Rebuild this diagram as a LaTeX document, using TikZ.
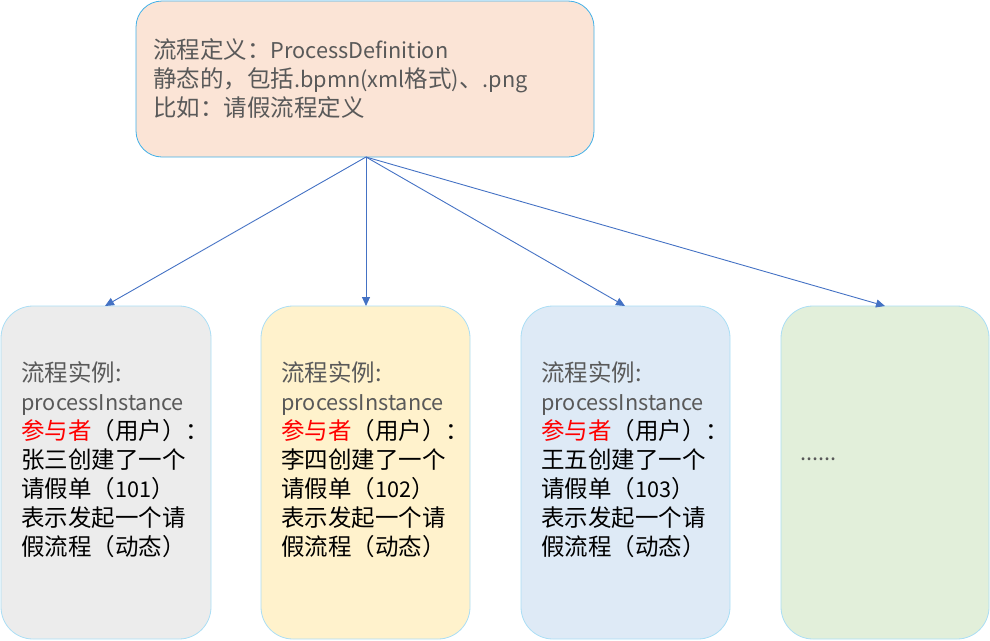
\documentclass[tikz,border=0pt]{standalone}
\usepackage{fontspec}
\setmainfont{Noto Sans CJK SC}
\usetikzlibrary{arrows.meta}
\definecolor{topfill}{RGB}{251,228,214}
\definecolor{topline}{RGB}{64,176,232}
\definecolor{boxline}{RGB}{170,222,245}
\definecolor{fillA}{RGB}{236,236,236}
\definecolor{fillB}{RGB}{255,242,204}
\definecolor{fillC}{RGB}{222,234,246}
\definecolor{fillD}{RGB}{226,239,218}
\definecolor{arrowc}{RGB}{68,114,196}
\definecolor{txtgray}{RGB}{89,89,89}
\newcommand{\lat}[1]{{\fontsize{21.7pt}{29pt}\selectfont #1}}
\tikzset{
  topbox/.style={draw=topline, line width=0.8pt, fill=topfill, rounded corners=26pt},
  instbox/.style={draw=boxline, line width=0.8pt, rounded corners=32pt},
  boxtext/.style={anchor=north west, align=left, inner sep=0pt, font=\fontsize{23.5pt}{29pt}\selectfont},
  link/.style={draw=arrowc, line width=0.9pt, -{Triangle[length=9pt,width=8pt]}}
}
\begin{document}
\begin{tikzpicture}[x=1pt,y=-1pt]
\useasboundingbox (0,0) rectangle (990,640);
% top box
\path[topbox] (136,1) rectangle (594,157);
\coordinate (defbot) at (366,157);
\node[boxtext, text=txtgray] (deftext) at (153,38) {流程定义：\lat{ProcessDefinition}\\静态的，包括\lat{.bpmn(xml}格式\lat{)}、\lat{.png}\\比如：请假流程定义};
% instance boxes
\path[instbox, fill=fillA] (1,306) rectangle (211,639);
\path[instbox, fill=fillB] (261,306) rectangle (470,639);
\path[instbox, fill=fillC] (521,306) rectangle (730,639);
\path[instbox, fill=fillD] (781,306) rectangle (989,639);
\coordinate (instA) at (105,306);
\coordinate (instB) at (366,306);
\coordinate (instC) at (625,306);
\coordinate (instD) at (885,306);
\node[boxtext] (textA) at (21,361) {\textcolor{txtgray}{流程实例:}\\\textcolor{txtgray}{\lat{processInstance}}\\\textcolor{red}{参与者}（用户）：\\张三创建了一个\\请假单（\lat{101}）\\表示发起一个请\\假流程（动态）};
\node[boxtext] (textB) at (281,361) {\textcolor{txtgray}{流程实例:}\\\textcolor{txtgray}{\lat{processInstance}}\\\textcolor{red}{参与者}（用户）：\\李四创建了一个\\请假单（\lat{102}）\\表示发起一个请\\假流程（动态）};
\node[boxtext] (textC) at (541,361) {\textcolor{txtgray}{流程实例:}\\\textcolor{txtgray}{\lat{processInstance}}\\\textcolor{red}{参与者}（用户）：\\王五创建了一个\\请假单（\lat{103}）\\表示发起一个请\\假流程（动态）};
\node[boxtext, text=txtgray] (textD) at (800,458) {\lat{......}};
% connectors
\draw[link] (defbot) -- (instA);
\draw[link] (defbot) -- (instB);
\draw[link] (defbot) -- (instC);
\draw[link] (defbot) -- (instD);
\end{tikzpicture}
\end{document}
